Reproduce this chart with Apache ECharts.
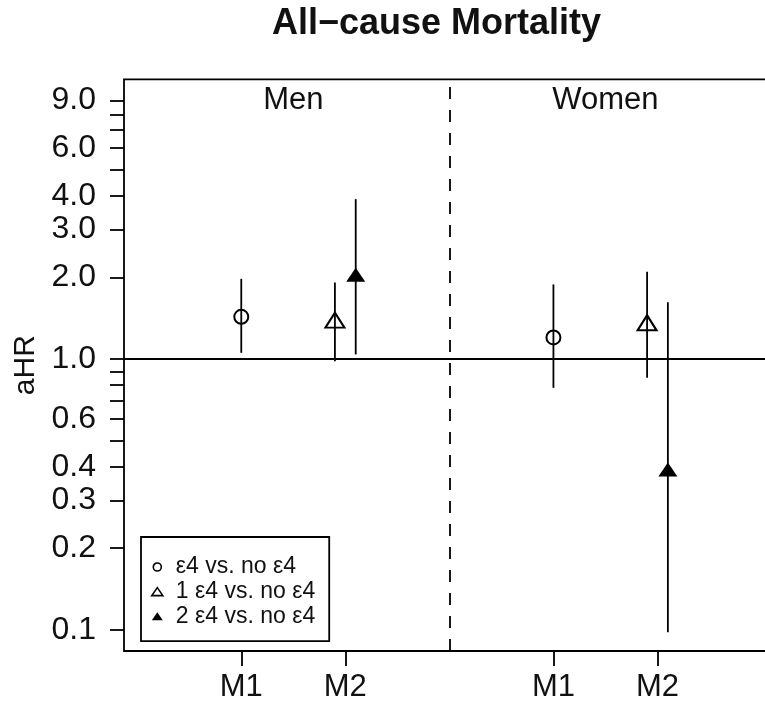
<!DOCTYPE html>
<html>
<head>
<meta charset="utf-8">
<script src="https://cdn.jsdelivr.net/npm/echarts@6/dist/echarts.min.js"></script>
<style>
html,body{margin:0;padding:0;background:#fff;}
#chart{width:765px;height:706px;}
</style>
</head>
<body>
<div id="chart"></div>
<script>
// ---------- data ----------
const chartTitle = 'All\u2212cause Mortality';
const panels = ['Men', 'Women'];
const panelCenters = [1.5, 4.5];
const panelLabelY = 9;
const modelLabels = ['M1', 'M2', 'M1', 'M2'];
const modelPositions = [1, 2, 4, 5];
const dividerPosition = 3;
const referenceHR = 1;
const seriesNames = ['\u03b54 vs. no \u03b54', '1 \u03b54 vs. no \u03b54', '2 \u03b54 vs. no \u03b54'];

// ε4 vs. no ε4 (model M1)
const anyX  = [1, 4];
const anyHR = [1.43, 1.20];
const anyLo = [1.053, 0.782];
const anyHi = [1.975, 1.884];

// 1 ε4 vs. no ε4 (model M2)
const oneX  = [1.9, 4.9];
const oneHR = [1.367, 1.337];
const oneLo = [0.981, 0.852];
const oneHi = [1.916, 2.097];

// 2 ε4 vs. no ε4 (model M2)
const twoX  = [2.1, 5.1];
const twoHR = [2.01, 0.384];
const twoLo = [1.039, 0.098];
const twoHi = [3.89, 1.62];

const yTickValues  = [0.1, 0.2, 0.3, 0.4, 0.5, 0.6, 0.7, 0.8, 0.9, 1, 2, 3, 4, 5, 6, 7, 8, 9];
const yLabelValues = [0.1, 0.2, 0.3, 0.4, 0.6, 1, 2, 3, 4, 6, 9];

// ---------- chart ----------
const FONT = '"Liberation Sans", Arial, sans-serif';
const INK = '#111';
const LW = 1.8;

const pts = (xs, ys) => xs.map((x, i) => [x, ys[i]]);
const bars = (xs, lo, hi) => xs.map((x, i) => [x, lo[i], hi[i]]);
const errorData = [].concat(bars(anyX, anyLo, anyHi), bars(oneX, oneLo, oneHi), bars(twoX, twoLo, twoHi));

const hollow = 'rgba(0,0,0,0)';

const option = {
  animation: false,
  title: {
    text: chartTitle,
    left: 272, top: 6, padding: 0,
    textStyle: { fontFamily: FONT, fontSize: 36, fontWeight: 'bold', color: INK }
  },
  grid: {
    left: 124, top: 79.3, width: 647, bottom: 55,
    outerBoundsMode: 'none', containLabel: false,
    show: true, borderColor: '#000', borderWidth: LW, backgroundColor: 'transparent'
  },
  legend: {
    orient: 'vertical', left: 141, top: 537,
    padding: [18, 14, 13, 10],
    borderColor: '#000', borderWidth: LW,
    itemWidth: 11, itemHeight: 8, itemGap: 0.6,
    selectedMode: false,
    textStyle: { fontFamily: FONT, fontSize: 23, color: INK, lineHeight: 24, padding: [0, 0, 0, 8] },
    data: [
      { name: seriesNames[0], icon: 'circle', itemStyle: { color: hollow, borderColor: '#000', borderWidth: 1.6 } },
      { name: seriesNames[1], icon: 'triangle', itemStyle: { color: hollow, borderColor: '#000', borderWidth: 1.6 } },
      { name: seriesNames[2], icon: 'triangle', itemStyle: { color: '#000', borderColor: '#000', borderWidth: 0 } }
    ]
  },
  xAxis: {
    type: 'value', min: -0.127, max: 6.091,
    axisLine: { show: false, onZero: false },
    splitLine: { show: false },
    axisTick: { show: true, length: 15, lineStyle: { color: '#000', width: LW }, customValues: modelPositions },
    axisLabel: {
      customValues: modelPositions,
      formatter: v => modelLabels[modelPositions.indexOf(+v)],
      fontFamily: FONT, fontSize: 31, color: INK, margin: 21
    }
  },
  yAxis: {
    type: 'log', logBase: 10, min: 0.0835, max: 10.77,
    name: 'aHR', nameLocation: 'middle', nameRotate: 90, nameGap: 82,
    nameTextStyle: { fontFamily: FONT, fontSize: 30, color: INK },
    axisLine: { show: false, onZero: false },
    splitLine: { show: false },
    minorTick: { show: false },
    axisTick: { show: true, length: 14, lineStyle: { color: '#000', width: LW }, customValues: yTickValues },
    axisLabel: {
      customValues: yLabelValues,
      formatter: v => (+v).toFixed(1),
      fontFamily: FONT, fontSize: 32, color: INK, margin: 28
    }
  },
  series: [
    {
      type: 'custom', name: 'ci', z: 2, silent: true,
      data: errorData,
      encode: { x: 0, y: [1, 2] },
      renderItem: (params, api) => {
        const a = api.coord([api.value(0), api.value(1)]);
        const b = api.coord([api.value(0), api.value(2)]);
        return { type: 'line', shape: { x1: a[0], y1: a[1], x2: b[0], y2: b[1] },
                 style: { stroke: '#000', lineWidth: LW } };
      },
      markLine: {
        silent: true, symbol: 'none', label: { show: false },
        data: [
          { yAxis: referenceHR, lineStyle: { type: 'solid', color: '#000', width: LW } },
          { xAxis: dividerPosition, lineStyle: { type: [12, 11], color: '#000', width: LW } }
        ]
      }
    },
    {
      type: 'custom', name: 'panels', z: 2, silent: true,
      data: panelCenters.map(x => [x, panelLabelY]),
      encode: { x: 0, y: 1 },
      renderItem: (params, api) => {
        const p = api.coord([api.value(0), api.value(1)]);
        return { type: 'text', x: p[0], y: p[1],
                 style: { text: panels[params.dataIndex], fontFamily: FONT, fontSize: 31, fill: INK,
                          align: 'center', verticalAlign: 'middle' } };
      }
    },
    {
      name: seriesNames[0], type: 'scatter', z: 3,
      data: pts(anyX, anyHR),
      symbol: 'circle', symbolSize: 14,
      itemStyle: { color: hollow, borderColor: '#000', borderWidth: 2, opacity: 1 }
    },
    {
      name: seriesNames[1], type: 'scatter', z: 3,
      data: pts(oneX, oneHR),
      symbol: 'triangle', symbolSize: [19, 15], symbolOffset: [0, -2],
      itemStyle: { color: hollow, borderColor: '#000', borderWidth: 2, opacity: 1 }
    },
    {
      name: seriesNames[2], type: 'scatter', z: 3,
      data: pts(twoX, twoHR),
      symbol: 'triangle', symbolSize: [19, 14], symbolOffset: [0, -2],
      itemStyle: { color: '#000', opacity: 1 }
    }
  ]
};

const chart = echarts.init(document.getElementById('chart'), null, { renderer: 'canvas' });
chart.setOption(option);
</script>
</body>
</html>
